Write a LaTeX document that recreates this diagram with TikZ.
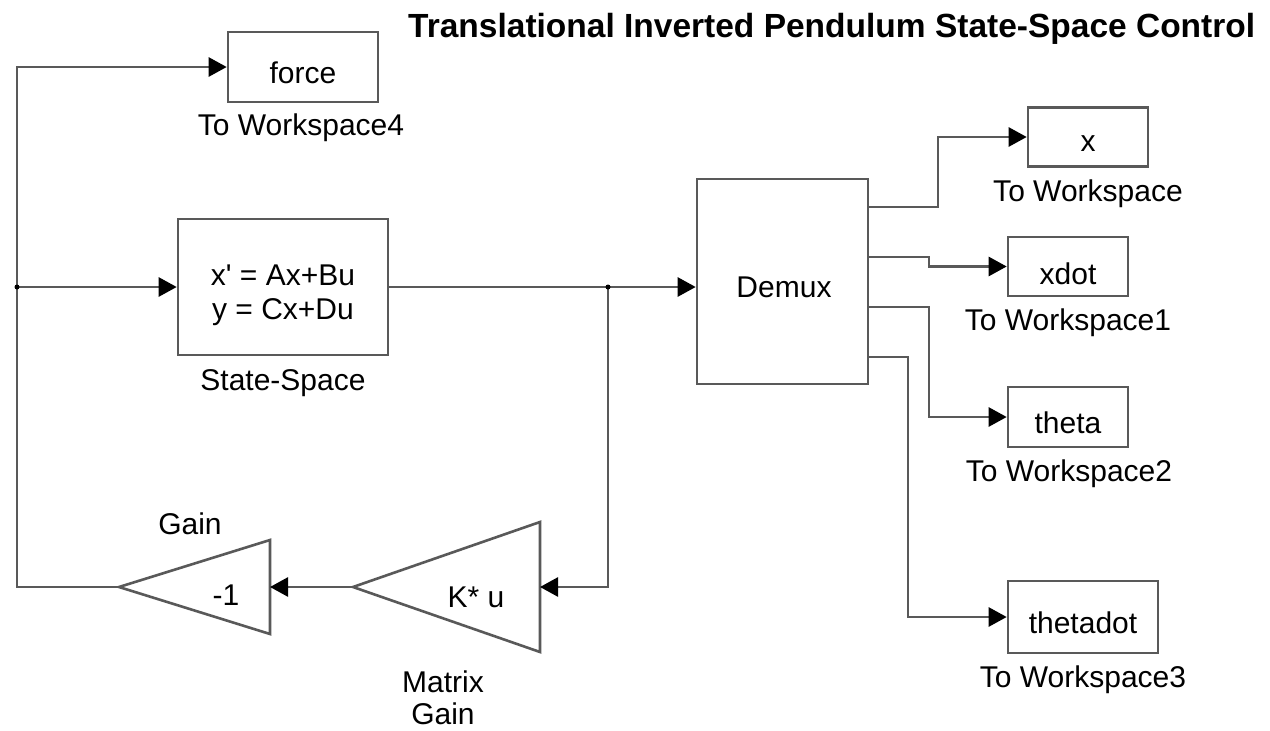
\documentclass[tikz,border=0pt]{standalone}
\usepackage{fontspec}
\setmainfont{Liberation Sans}
\newfontfamily\plainfont{Liberation Sans}
\usetikzlibrary{arrows.meta}
\begin{document}
\begin{tikzpicture}[x=1pt,y=-1pt,
  wire/.style={draw=black!65,line width=2.6pt},
  arr/.style={wire,-{Triangle[length=18pt,width=19pt,fill=black,color=black]}},
  blk/.style={draw=black!65,line width=2.6pt,fill=white,inner sep=0pt},
  lbl/.style={inner sep=0pt,font=\fontsize{30}{32}\selectfont,align=center},
  dot/.style={circle,fill=black,inner sep=0pt,minimum size=5pt}
]
\useasboundingbox (0,0) rectangle (1270,731);
\fill[white] (0,0) rectangle (1270,731);

% title
\node[inner sep=0pt,anchor=base west,font=\bfseries\fontsize{33.5}{36}\selectfont] (title) at (408,37) {Translational Inverted Pendulum State-Space Control};

% blocks
\node[blk,minimum width=150pt,minimum height=70pt] (force) at (303,67) {};
\node[blk,minimum width=210pt,minimum height=136pt] (ss) at (283,287) {};
\node[blk,minimum width=171pt,minimum height=205pt] (demux) at (782.5,281.5) {};
\node[blk,minimum width=120pt,minimum height=59pt] (xws) at (1088,137) {};
\node[blk,minimum width=120pt,minimum height=59pt] (xdot) at (1068,266.5) {};
\node[blk,minimum width=120pt,minimum height=60pt] (theta) at (1068,417) {};
\node[blk,minimum width=150pt,minimum height=72pt] (thetadot) at (1083,617) {};

% block texts
\node[lbl] (forcetxt) at ([yshift=-6pt]force.center) {force};
\node[lbl,font=\plainfont\fontsize{30}{32}\selectfont] (sstxt) at ([yshift=-8pt]ss.center) {x' = Ax+Bu\\[2pt]y = Cx+Du};
\node[lbl] (demuxtxt) at (784,287) {Demux};
\node[lbl] (xtxt) at ([yshift=-7pt]xws.center) {x};
\node[lbl] (xdottxt) at ([yshift=-7pt]xdot.center) {xdot};
\node[lbl] (thetatxt) at ([yshift=-6pt]theta.center) {theta};
\node[lbl] (thetadottxt) at ([yshift=-6pt]thetadot.center) {thetadot};

% triangles (gains)
\coordinate (gtip) at (119,587);
\coordinate (gtop) at (270,540);
\coordinate (gbot) at (270,634);
\coordinate (gin) at (270,587);
\draw[draw=black!65,line width=2.6pt,line join=miter] (gtip) -- (gtop) -- (gbot) -- cycle;
\coordinate (ktip) at (353,587);
\coordinate (ktop) at (540,522);
\coordinate (kbot) at (540,652);
\coordinate (kin) at (540,587);
\draw[draw=black!65,line width=2.6pt,line join=miter] (ktip) -- (ktop) -- (kbot) -- cycle;
\node[lbl] (gtxt) at (226,595) {-1};
\node[lbl] (ktxt) at (476,597) {K* u};

% labels
\node[lbl] (l4) at (301,128) {To Workspace4};
\node[lbl] (lss) at (283,383) {State-Space};
\node[lbl] (l0) at (1088,194) {To Workspace};
\node[lbl] (l1) at (1068,323) {To Workspace1};
\node[lbl] (l2) at (1069,474) {To Workspace2};
\node[lbl] (l3) at (1083,680) {To Workspace3};
\node[lbl] (lgain) at (190,524) {Gain};
\node[lbl] (lmg) at (443,698) {Matrix\\Gain};

% junctions
\coordinate (j0) at (17,287);
\coordinate (j1) at (608,287);
\coordinate (o1) at (868,207);
\coordinate (o2) at (868,257);
\coordinate (o3) at (868,307);
\coordinate (o4) at (868,357);

% connectors
\draw[arr] (ss.east) -- (j1) -- (demux.west |- j1);
\draw[arr] (j1) -- (608,587) -- (kin);
\draw[arr] (ktip) -- (gin);
\draw[wire] (gtip) -- (17,587) -- (j0);
\draw[arr] (j0) -- (17,67) -- (force.west);
\draw[arr] (j0) -- (ss.west);

\draw[arr] (o1) -- (938,207) -- (938,137) -- (xws.west);
\draw[arr] (o2) -- (929,257) -- (929,266.5) -- (xdot.west);
\draw[arr] (o3) -- (929,307) -- (929,417) -- (theta.west);
\draw[arr] (o4) -- (908,357) -- (908,617) -- (thetadot.west);

\node[dot] at (j0) {};
\node[dot] at (j1) {};
\end{tikzpicture}
\end{document}
